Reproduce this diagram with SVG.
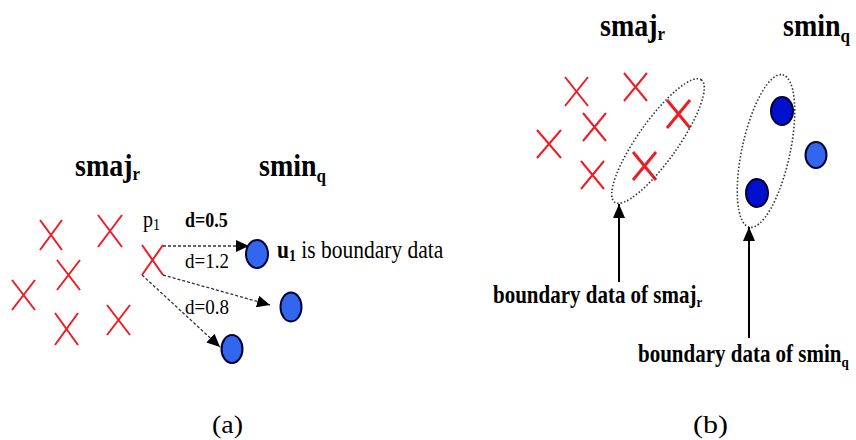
<svg xmlns="http://www.w3.org/2000/svg" width="856" height="440" viewBox="0 0 856 440">
<style>
.x{stroke:#ee1c25;stroke-width:2;fill:none}
.xt{stroke:#ee1c25;stroke-width:3;fill:none}
.c{fill:#3366ee;stroke:#000033;stroke-width:2}
.cd{fill:#0010cc;stroke:#000033;stroke-width:2}
.dash{stroke:#333;stroke-width:1.3;stroke-dasharray:3 2;fill:none}
.dot{stroke:#333;stroke-width:1.6;stroke-dasharray:1.5 2;fill:none}
.sol{stroke:#000;stroke-width:2;fill:none}
.t{font-family:'Liberation Serif','Times New Roman',Tinos,'DejaVu Serif','Noto Serif',serif;fill:#000}
.b{font-weight:bold}
</style>
<defs>
<marker id="ah" markerUnits="userSpaceOnUse" markerWidth="13" markerHeight="12" refX="13" refY="6" orient="auto">
<path d="M0,0 L13,6 L0,12 z" fill="#000"/>
</marker>
<marker id="ahb" markerUnits="userSpaceOnUse" markerWidth="14" markerHeight="12" refX="14" refY="6" orient="auto">
<path d="M0,0 L14,6 L0,12 z" fill="#000"/>
</marker>
</defs>
<rect width="856" height="440" fill="#fff"/>

<!-- panel (a) -->
<g id="a-labels">
<text class="t b" transform="translate(75,176) scale(1,1.12)" font-size="28">smaj<tspan font-size="17" dy="4">r</tspan></text>
<text class="t b" transform="translate(259,176) scale(1,1.12)" font-size="28">smin<tspan font-size="17" dy="5">q</tspan></text>
<text class="t" transform="translate(143,227) scale(1,1.15)" font-size="20">p<tspan font-size="14" dy="3">1</tspan></text>
<text class="t b" transform="translate(185,227) scale(1,1.15)" font-size="18">d=0.5</text>
<text class="t" transform="translate(185,268) scale(1,1.15)" font-size="19">d=1.2</text>
<text class="t" transform="translate(185,314) scale(1,1.15)" font-size="19">d=0.8</text>
<text class="t" transform="translate(277,258) scale(1,1.15)" font-size="21.5"><tspan class="b">u</tspan><tspan class="b" font-size="14" dy="3">1</tspan><tspan dy="-3"> is boundary data</tspan></text>
<text class="t" x="212" y="433" font-size="26" textLength="31" lengthAdjust="spacingAndGlyphs">(a)</text>
</g>
<g id="a-majority">
<path class="x" d="M40,220 L62,250 M62,220 L40,250"/>
<path class="x" d="M98,215 L122,247 M122,215 L98,247"/>
<path class="x" d="M57,260 L80,290 M80,260 L57,290"/>
<path class="x" d="M12,280 L35,310 M35,280 L12,310"/>
<path class="x" d="M55,313 L78,345 M78,313 L55,345"/>
<path class="x" d="M107,305 L130,335 M130,305 L107,335"/>
</g>
<g id="a-p1">
<path class="x" d="M142,245 L163,275 M163,245 L142,275"/>
</g>
<g id="a-minority">
<ellipse id="a-u1" class="c" cx="257" cy="254" rx="11" ry="14"/>
<ellipse class="c" cx="291" cy="307" rx="10.5" ry="14.5"/>
<ellipse class="c" cx="232" cy="349" rx="10.5" ry="14"/>
</g>
<g id="a-connectors">
<path class="dash" d="M163,246 L249,246" marker-end="url(#ah)"/>
<path class="dash" d="M163,275 L270,305" marker-end="url(#ah)"/>
<path class="dash" d="M142,275 L220,347" marker-end="url(#ah)"/>
</g>

<!-- panel (b) -->
<g id="b-labels">
<text class="t b" transform="translate(600,36) scale(1,1.12)" font-size="28">smaj<tspan font-size="17" dy="4">r</tspan></text>
<text class="t b" transform="translate(783,36) scale(1,1.12)" font-size="28">smin<tspan font-size="17" dy="5">q</tspan></text>
<text class="t b" transform="translate(493,303) scale(1,1.18)" font-size="21">boundary data of smaj<tspan font-size="13" dy="3">r</tspan></text>
<text class="t b" transform="translate(638,362) scale(1,1.18)" font-size="21">boundary data of smin<tspan font-size="13" dy="4">q</tspan></text>
<text class="t" x="693" y="433" font-size="26" textLength="35" lengthAdjust="spacingAndGlyphs">(b)</text>
</g>
<g id="b-majority">
<path class="x" d="M565,77 L588,106 M588,77 L565,106"/>
<path class="x" d="M624,73 L647,101 M647,73 L624,101"/>
<path class="x" d="M583,113 L606,141 M606,113 L583,141"/>
<path class="x" d="M537,130 L561,158 M561,130 L537,158"/>
<path class="x" d="M581,161 L604,189 M604,161 L581,189"/>
</g>
<g id="b-majority-boundary">
<path class="xt" d="M667,100 L690,128 M690,100 L667,128"/>
<path class="xt" d="M633,152 L656,180 M656,152 L633,180"/>
<ellipse class="dot" cx="658" cy="141" rx="75" ry="20" transform="rotate(-54.7 658 141)"/>
</g>
<g id="b-minority">
<ellipse class="cd" cx="782" cy="111" rx="11" ry="14"/>
<ellipse class="c" cx="816" cy="155" rx="10.5" ry="13"/>
<ellipse class="cd" cx="757" cy="193" rx="11" ry="14"/>
<ellipse class="dot" cx="766" cy="151" rx="78" ry="24" transform="rotate(-77.7 766 151)"/>
</g>
<g id="b-connectors">
<path class="sol" d="M619,282 L619,204" marker-end="url(#ahb)"/>
<path class="sol" d="M749,338 L749,227" marker-end="url(#ahb)"/>
</g>
</svg>
